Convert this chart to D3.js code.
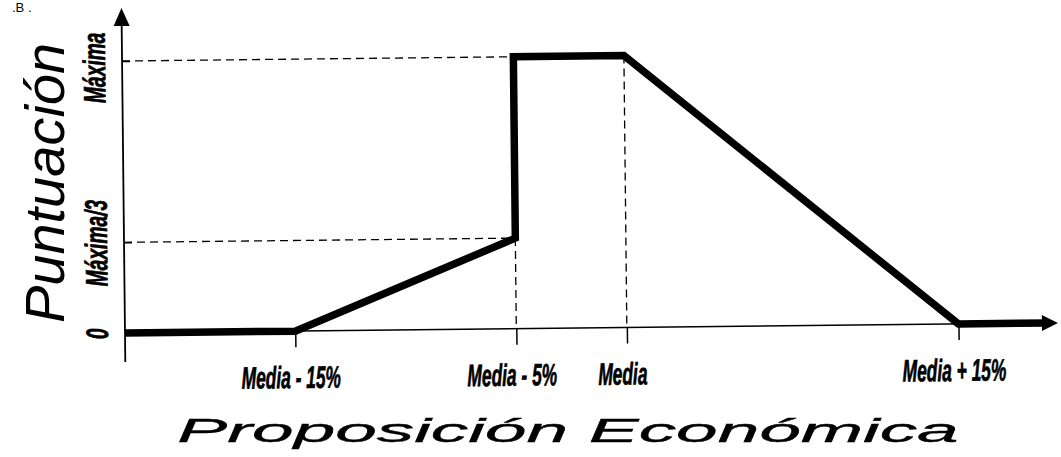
<!DOCTYPE html>
<html>
<head>
<meta charset="utf-8">
<script src="https://cdn.jsdelivr.net/npm/d3@7"></script>
<style>
  body { margin: 0; background: #fff; }
  svg { display: block; }
  .cond { font-family: "Liberation Sans", Arial, sans-serif; font-weight: bold; font-style: italic; font-size: 31px; fill: #000; stroke: #000; stroke-width: 0.7; }
  .title { font-family: "Liberation Sans", Arial, sans-serif; font-style: italic; fill: #000; }
</style>
</head>
<body>
<svg id="chart" width="1061" height="457"></svg>
<script>
// y levels
const levelValues = [0, 1 / 3, 1];
const levelLabels = ['0', 'Máxima/3', 'Máxima'];
// x ticks (% vs. media)
const tickValues = [-15, -5, 0, 15];
const tickLabels = ['Media - 15%', 'Media - 5%', 'Media', 'Media + 15%'];
// score curve
const curveX = [-22.7, -15, -5, -5, 0, 15, 19];
const curveY = [0, 0, 1 / 3, 1, 1, 0, 0];
// axis extents
const xExtent = [-22.7, 19.5];
const yTop = 1.195;

const svg = d3.select('#chart');
const origin = {x: 125, y: 333};
const innerWidth = 933;
const innerHeight = 272; // 0 -> Máxima

const x = d3.scaleLinear().domain(xExtent).range([0, innerWidth]);
const y = d3.scaleLinear().domain([0, 1]).range([0, -innerHeight]);

// small scan tilt
const g = svg.append('g')
    .attr('transform', `translate(${origin.x}, ${origin.y}) rotate(-0.62)`);

// dashed guides
const dash = g.append('g')
    .attr('fill', 'none')
    .attr('stroke', '#000')
    .attr('stroke-width', 1.3)
    .attr('stroke-dasharray', '8,5');
dash.append('line')
    .attr('x1', 0).attr('x2', x(-5))
    .attr('y1', y(1)).attr('y2', y(1));
dash.append('line')
    .attr('x1', 0).attr('x2', x(-5))
    .attr('y1', y(1 / 3)).attr('y2', y(1 / 3));
dash.append('line')
    .attr('x1', x(-5)).attr('x2', x(-5))
    .attr('y1', y(1 / 3)).attr('y2', 0);
dash.append('line')
    .attr('x1', x(0)).attr('x2', x(0))
    .attr('y1', y(1)).attr('y2', 0);

// axes
const xAxis = d3.axisBottom(x)
    .tickValues(tickValues)
    .tickFormat((d, i) => tickLabels[i])
    .tickSizeInner(16)
    .tickSizeOuter(0);
const xAxisG = g.append('g').call(xAxis);
xAxisG.select('.domain').remove();
xAxisG.selectAll('line').attr('stroke-width', 1.5);
xAxisG.selectAll('text')
    .attr('class', 'cond')
    .attr('y', null).attr('dy', null)
    .attr('text-anchor', 'middle')
    .attr('transform', 'translate(-5, 57) scale(0.56, 1)');

const yAxis = d3.axisLeft(y)
    .tickValues(levelValues)
    .tickFormat((d, i) => levelLabels[i])
    .tickSizeInner(10)
    .tickSizeOuter(0);
const yAxisG = g.append('g').call(yAxis);
yAxisG.select('.domain').remove();
yAxisG.selectAll('line').attr('stroke-width', 1.5).attr('x2', 8);
yAxisG.selectAll('text')
    .attr('class', 'cond')
    .attr('x', null).attr('dy', null)
    .attr('text-anchor', 'middle')
    .attr('transform', (d, i) => `translate(-17, ${i === 2 ? 6 : 0}) rotate(-90) scale(0.62, 1)`);

// axis lines with arrows
g.append('line')
    .attr('x1', 0).attr('x2', x(xExtent[1]) - 10)
    .attr('y1', 0).attr('y2', 0)
    .attr('stroke', '#000').attr('stroke-width', 1.5);
g.append('line')
    .attr('x1', 0).attr('x2', 0)
    .attr('y1', 29).attr('y2', y(yTop) + 12)
    .attr('stroke', '#000').attr('stroke-width', 1.8);
g.append('path')
    .attr('d', `M0,${y(yTop)} L-8,${y(yTop) + 18} L8,${y(yTop) + 18} Z`)
    .attr('fill', '#000');

// score curve
const line = d3.line()
    .x(d => x(d[0]))
    .y(d => y(d[1]));
g.append('path')
    .datum(curveX.map((v, i) => [v, curveY[i]]))
    .attr('d', line)
    .attr('fill', 'none')
    .attr('stroke', '#000')
    .attr('stroke-width', 7.5)
    .attr('stroke-linejoin', 'miter');
const tipX = x(xExtent[1]);
g.append('path')
    .attr('d', `M${tipX},0 L${tipX - 16},-8 L${tipX - 16},8 Z`)
    .attr('fill', '#000');

// titles
svg.append('text')
    .attr('class', 'title')
    .attr('transform', 'translate(64, 183) rotate(-90)')
    .attr('text-anchor', 'middle')
    .style('font-size', '56px')
    .text('Puntuación');

svg.append('text')
    .attr('class', 'title')
    .attr('transform', 'translate(568, 442) scale(2.2, 1)')
    .attr('text-anchor', 'middle')
    .style('font-size', '34px')
    .style('stroke', '#000')
    .style('stroke-width', 0.4)
    .text('Proposición Económica');

svg.append('text')
    .attr('x', 12).attr('y', 12)
    .style('font-family', '"Liberation Sans", Arial, sans-serif')
    .style('font-size', '13px')
    .text('.B .');
</script>
</body>
</html>
